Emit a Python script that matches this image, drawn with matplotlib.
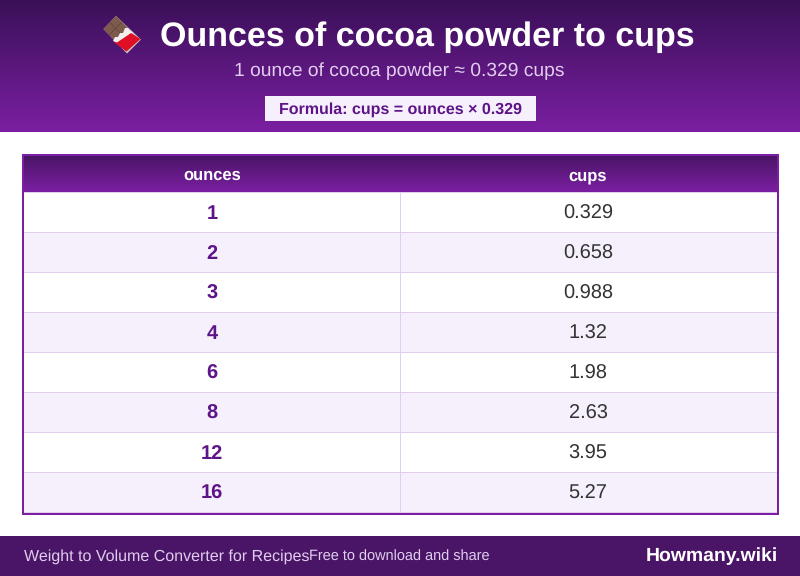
import numpy as np
import matplotlib
matplotlib.use("Agg")
import matplotlib.pyplot as plt
from matplotlib.colors import LinearSegmentedColormap
from matplotlib.patches import Rectangle, Polygon

plt.rcParams['font.family'] = ['Liberation Sans', 'DejaVu Sans']
plt.rcParams['text.hinting'] = 'no_hinting'
plt.rcParams['text.hinting_factor'] = 8

ounces = ["1", "2", "3", "4", "6", "8", "12", "16"]
cups = ["0.329", "0.658", "0.988", "1.32", "1.98", "2.63", "3.95", "5.27"]
columns = ["ounces", "cups"]

title = "Ounces of cocoa powder to cups"
subtitle = "1 ounce of cocoa powder ≈ 0.329 cups"
formula = "Formula: cups = ounces × 0.329"
footer_left = "Weight to Volume Converter for Recipes"
footer_mid = "Free to download and share"
brand = "Howmany.wiki"

PURPLE = "#7b1fa2"
DARK = "#4a1566"
INK = "#5e1488"
LILAC = "#f5f0fb"
GRID = "#e1cdee"


def px(size):
    return size * 0.72


def gradient(ax, x0, x1, y0, y1, top, bottom):
    cmap = LinearSegmentedColormap.from_list("g", [top, bottom])
    ax.imshow(np.linspace(0, 1, 256).reshape(-1, 1), cmap=cmap, aspect="auto",
              extent=(x0, x1, y1, y0), zorder=1)


fig = plt.figure(figsize=(8, 5.76), dpi=100)
ax = fig.add_axes([0, 0, 1, 1])

# banner
gradient(ax, 0, 800, 0, 132, "#3a1058", PURPLE)
ax.text(427, 33.5, title, color="white", fontsize=px(34), fontweight="bold",
        ha="center", va="center_baseline", zorder=3)
ax.text(399, 69, subtitle, color="#e1cdee", fontsize=px(19.3),
        ha="center", va="center_baseline", zorder=3)
ax.add_patch(Rectangle((265, 96), 271, 25, color=LILAC, lw=0, zorder=2))
ax.text(400.5, 108, formula, color=INK, fontsize=px(16), fontweight="bold",
        ha="center", va="center_baseline", zorder=3)

# chocolate bar icon
ax.add_patch(Polygon([(103.5, 29), (116, 16), (141, 39.5), (127, 53.5)], color="#c9c4c4", lw=0, zorder=3))
ax.add_patch(Polygon([(103.5, 29), (116, 16), (131, 31), (118, 44)], color="#7d5a4c", lw=0, zorder=4))
ax.plot([110, 123], [22.5, 36], color="#5d4037", lw=0.45, zorder=5)
ax.plot([109, 122], [35, 22], color="#5d4037", lw=0.45, zorder=5)
ax.add_patch(Polygon([(113, 41), (115, 37), (118, 37), (120, 33), (123, 33), (125, 28), (128, 28), (133, 33), (117, 43)],
                     color="#f3eeee", lw=0, zorder=5))
ax.add_patch(Polygon([(113, 41.5), (117, 42.5), (131, 33), (140.5, 39), (126.5, 51.5)], color="#df0f26", lw=0, zorder=6))

# table
left, right = 24, 777
mid = 400
head_top, head_bot = 156, 192
row_h = 40
tbl_bot = head_bot + row_h * len(ounces)
gradient(ax, left, right, head_top, head_bot, DARK, PURPLE)
ax.text(212, 174, columns[0], color="white", fontsize=px(16.5), fontweight="bold",
        ha="center", va="center_baseline", zorder=3)
ax.text(588, 174, columns[1], color="white", fontsize=px(16.5), fontweight="bold",
        ha="center", va="center_baseline", zorder=3)
ax.add_patch(Rectangle((left, head_bot), right - left, 1, color=GRID, lw=0, zorder=2))

for i, (oz, cup) in enumerate(zip(ounces, cups)):
    y0 = head_bot + i * row_h
    bg = LILAC if i % 2 else "white"
    ax.add_patch(Rectangle((left, y0), right - left, row_h, color=bg, lw=0, zorder=1))
    ax.add_patch(Rectangle((left, y0 + row_h), right - left, 1, color=GRID, lw=0, zorder=2))
    ax.text(212, y0 + 20, oz, color=INK, fontsize=px(20), fontweight="bold",
            ha="center", va="center_baseline", zorder=3)
    ax.text(588, y0 + 20, cup, color="#333333", fontsize=px(20),
            ha="center", va="center_baseline", zorder=3)
ax.add_patch(Rectangle((mid, head_bot), 1, tbl_bot - head_bot, color=GRID, lw=0, zorder=2))
ax.add_patch(Rectangle((23, 155), 755, tbl_bot - 155 + 2, fill=False, ec=PURPLE, lw=1.44, zorder=4))

# footer
ax.add_patch(Rectangle((0, 536), 800, 40, color=DARK, lw=0, zorder=1))
ax.text(24, 555, footer_left, color="#e1cdee", fontsize=px(16), ha="left", va="center_baseline", zorder=3)
ax.text(309, 555, footer_mid, color="#e1cdee", fontsize=px(14.5), ha="left", va="center_baseline", zorder=3)
ax.text(778, 554, brand, color="white", fontsize=px(19.4), fontweight="bold",
        ha="right", va="center_baseline", zorder=3)

ax.set_xlim(0, 800)
ax.set_ylim(576, 0)
ax.axis("off")
fig.savefig("out.png", dpi=100, facecolor="white")
